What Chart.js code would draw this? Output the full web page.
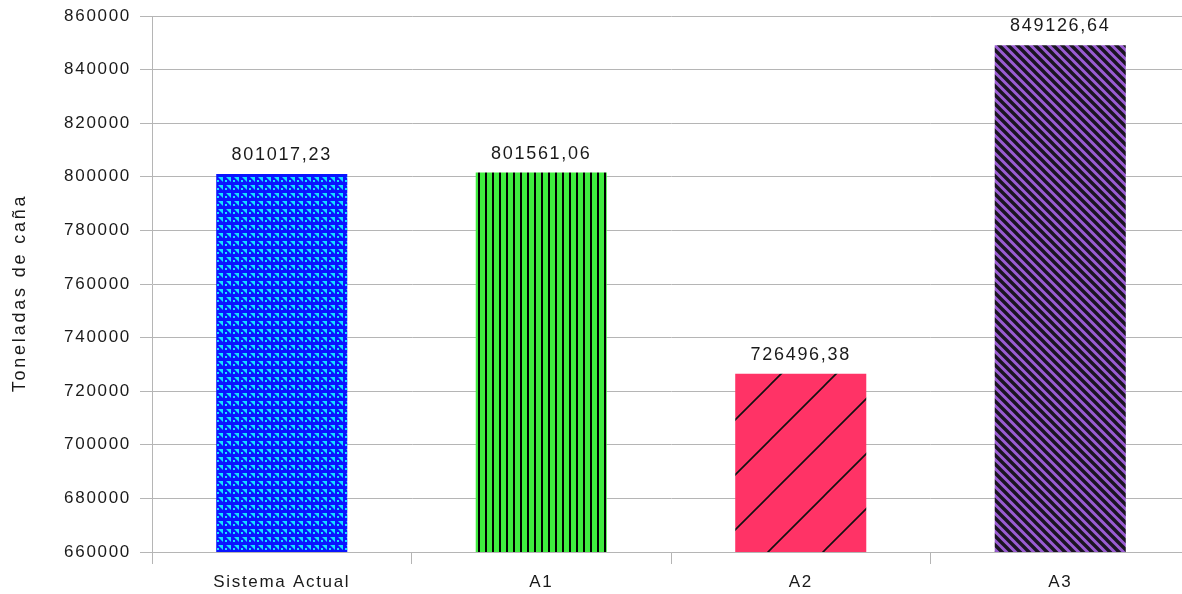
<!DOCTYPE html>
<html>
<head>
<meta charset="utf-8">
<script src="https://cdn.jsdelivr.net/npm/chart.js@4.4.1/dist/chart.umd.min.js"></script>
<style>
  html, body { margin: 0; padding: 0; background: #ffffff; overflow: hidden; }
  #wrap { width: 1182px; height: 594px; overflow: hidden; }
  canvas { display: block; }
</style>
</head>
<body>
<div id="wrap"><canvas id="chart" width="1190" height="594"></canvas></div>
<script>
// Production per scenario (tonnes of cane)
const categories = ['Sistema Actual', 'A1', 'A2', 'A3'];
const toneladas = [801017.23, 801561.06, 726496.38, 849126.64];
const yTicks = { min: 660000, max: 860000, step: 20000 };
const axisTitle = 'Toneladas de caña';

const FONT = '"Liberation Sans", Arial, sans-serif';
const SPACING = '1.7px';

function tile(w, h, paint) {
  const c = document.createElement('canvas');
  c.width = w; c.height = h;
  const g = c.getContext('2d');
  paint(g, w, h);
  return document.getElementById('chart').getContext('2d').createPattern(c, 'repeat');
}

// blue woven texture
const bluePattern = tile(8, 8, (g) => {
  g.fillStyle = '#0a14ff';
  g.fillRect(0, 0, 8, 8);
  g.fillStyle = '#14e0ff';
  g.beginPath();
  g.moveTo(2, 1); g.lineTo(7, 1); g.lineTo(7, 6); g.closePath();
  g.fill();
  g.fillRect(1, 4, 2, 2);
});

// green with vertical black stripes
const greenPattern = tile(7, 7, (g) => {
  g.fillStyle = '#3fec3f';
  g.fillRect(0, 0, 7, 7);
  g.fillStyle = '#000000';
  g.fillRect(2, 0, 2, 7);
});

// red with wide thin diagonals
const redPattern = tile(55, 55, (g) => {
  g.fillStyle = '#ff3366';
  g.fillRect(0, 0, 55, 55);
  g.strokeStyle = '#111111';
  g.lineWidth = 1.6;
  g.beginPath();
  g.moveTo(-5, 60); g.lineTo(60, -5);
  g.moveTo(-5, 5); g.lineTo(5, -5);
  g.moveTo(50, 60); g.lineTo(60, 50);
  g.stroke();
});

// purple with dense back-diagonals
const purplePattern = tile(9, 9, (g) => {
  g.fillStyle = '#9a5cd2';
  g.fillRect(0, 0, 9, 9);
  g.strokeStyle = '#1a1422';
  g.lineWidth = 3.4;
  g.beginPath();
  g.moveTo(-2, -2); g.lineTo(11, 11);
  g.moveTo(-2, 7); g.lineTo(2, 11);
  g.moveTo(7, -2); g.lineTo(11, 2);
  g.stroke();
});

const spacingPlugin = {
  id: 'spacing',
  beforeUpdate(chart) { chart.ctx.letterSpacing = SPACING; },
  beforeDraw(chart) { chart.ctx.letterSpacing = SPACING; }
};

const valueLabels = {
  id: 'valueLabels',
  afterDatasetsDraw(chart) {
    const ctx = chart.ctx;
    const meta = chart.getDatasetMeta(0);
    ctx.save();
    ctx.letterSpacing = SPACING;
    ctx.font = '18px ' + FONT;
    ctx.fillStyle = '#1a1a1a';
    ctx.textAlign = 'center';
    ctx.textBaseline = 'middle';
    meta.data.forEach((bar, i) => {
      const txt = toneladas[i].toFixed(2).replace('.', ',');
      ctx.fillText(txt, bar.x, bar.y - 19);
    });
    ctx.restore();
  }
};

const yTitle = {
  id: 'yTitle',
  afterDraw(chart) {
    const ctx = chart.ctx;
    ctx.save();
    ctx.letterSpacing = '2.8px';
    ctx.font = '18px ' + FONT;
    ctx.fillStyle = '#1a1a1a';
    ctx.textAlign = 'center';
    ctx.textBaseline = 'middle';
    ctx.translate(20, 293);
    ctx.rotate(-Math.PI / 2);
    ctx.fillText(axisTitle, 0, 0);
    ctx.restore();
  }
};

new Chart(document.getElementById('chart'), {
  type: 'bar',
  data: {
    labels: categories,
    datasets: [{
      data: toneladas,
      backgroundColor: [bluePattern, greenPattern, redPattern, purplePattern],
      borderWidth: 0,
      categoryPercentage: 1,
      barPercentage: 0.505
    }]
  },
  options: {
    responsive: false,
    animation: false,
    devicePixelRatio: 1,
    layout: { padding: { top: 16, right: 0, bottom: 0, left: 0 } },
    plugins: {
      legend: { display: false },
      tooltip: { enabled: false }
    },
    scales: {
      x: {
        grid: {
          offset: true,
          drawOnChartArea: false,
          drawTicks: true,
          tickLength: 12,
          color: '#b5b5b5',
          lineWidth: 1
        },
        border: { color: '#b5b5b5', width: 1 },
        ticks: {
          color: '#1a1a1a',
          font: { family: FONT, size: 17 },
          padding: 8,
          maxRotation: 0
        },
        afterFit(scale) {
          scale.height = 42;
          scale.paddingLeft = 0;
          scale.paddingRight = 0;
        }
      },
      y: {
        min: yTicks.min,
        max: yTicks.max,
        grid: {
          color: '#b5b5b5',
          lineWidth: 1,
          drawTicks: true,
          tickLength: 12
        },
        border: { color: '#b5b5b5', width: 1 },
        ticks: {
          stepSize: yTicks.step,
          color: '#1a1a1a',
          font: { family: FONT, size: 17 },
          padding: 9,
          callback: (v) => String(v)
        },
        afterFit(scale) {
          scale.width = 152;
          scale.paddingTop = 0;
          scale.paddingBottom = 0;
        }
      }
    }
  },
  plugins: [spacingPlugin, valueLabels, yTitle]
});
</script>
</body>
</html>
